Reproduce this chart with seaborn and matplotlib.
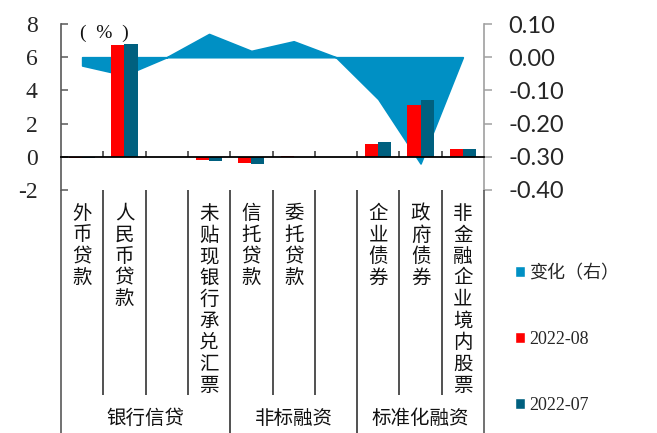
import numpy as np
import pandas as pd
import matplotlib
matplotlib.use("Agg")
import matplotlib.pyplot as plt
import matplotlib.transforms as mtransforms
from matplotlib.patches import Patch
import seaborn as sns

# Financing categories (two unlabeled spacer slots keep the groups apart)
categories = ["外币贷款", "人民币贷款", "", "未贴现银行承兑汇票", "信托贷款",
              "委托贷款", " ", "企业债券", "政府债券", "非金融企业境内股票"]
groups = ["银行信贷", "非标融资", "标准化融资"]
group_slots = [(0, 3), (4, 6), (7, 9)]

series_names = ["2022-08", "2022-07"]
aug_values = [-0.10, 6.72, np.nan, -0.18, -0.40, 0.02, np.nan, 0.78, 3.10, 0.45]
jul_values = [-0.08, 6.77, np.nan, -0.26, -0.44, -0.03, np.nan, 0.90, 3.42, 0.47]
change_values = [-0.025, -0.054, 0.0, 0.07, 0.019, 0.048, 0.0, -0.126, -0.32, 0.0]

left_ticks = [-2, 0, 2, 4, 6, 8]
right_ticks = [-0.40, -0.30, -0.20, -0.10, 0.00, 0.10]

RED = "#FF0000"
TEAL = "#00607F"
BLUE = "#0090C4"
CJK = "Noto Sans CJK SC"
SERIF = "Liberation Serif"

sns.set_style("white")
plt.rcParams["font.family"] = ["Liberation Serif", "Noto Sans CJK SC", "DejaVu Sans"]

W, H = 657, 433
fig = plt.figure(figsize=(W / 100, H / 100), dpi=100)
ax = fig.add_axes([61 / W, 1 - 190 / H, (484 - 61) / W, (190 - 24) / H])
ax2 = ax.twinx()

# long-form table for the grouped bars
rows = []
for cat, a, j in zip(categories, aug_values, jul_values):
    if not np.isnan(a):
        rows.append({"类别": cat, "期间": series_names[0], "值": a})
        rows.append({"类别": cat, "期间": series_names[1], "值": j})
df = pd.DataFrame(rows)

# change area on the secondary axis (drawn underneath the bars)
x = np.arange(len(categories))
ax2.fill_between(x, 0, change_values, color=BLUE, linewidth=1.2,
                 edgecolor=BLUE, joinstyle="round")
ax2.set_ylim(-0.40, 0.10)
ax2.set_yticks(right_ticks)
ax2.set_yticklabels([f"{v:.2f}" for v in right_ticks], fontfamily="Lato",
                    fontsize=17)
ax2.tick_params(axis="y", direction="out", length=6, width=1.1,
                color="#A0A0A0", pad=11.5, right=True, labelright=True)
for s in ["left", "top", "bottom"]:
    ax2.spines[s].set_visible(False)
ax2.spines["right"].set_color("#A0A0A0")
ax2.spines["right"].set_linewidth(1.2)

ax.set_zorder(ax2.get_zorder() + 1)
ax.patch.set_visible(False)

sns.barplot(data=df, x="类别", y="值", hue="期间", order=categories,
            hue_order=series_names, palette=[RED, TEAL], width=0.62,
            linewidth=0, saturation=1, legend=False, ax=ax)

ax.set_xlim(-0.5, len(categories) - 0.5)
ax.set_ylim(-2, 8)
ax.set_yticks(left_ticks)
ax.set_yticklabels([str(v) for v in left_ticks], fontfamily=SERIF, fontsize=17)
ax.tick_params(axis="y", direction="in", length=5, width=1.1,
               color="#595959", pad=17, left=True)
ax.set_xlabel("")
ax.set_ylabel("")

# category axis sits on the zero line with short tick marks between slots
ax.spines["bottom"].set_position(("data", 0))
ax.spines["bottom"].set_color("black")
ax.spines["bottom"].set_linewidth(1.3)
ax.set_xticks(np.arange(len(categories) - 1) + 0.5)
ax.set_xticklabels([])
ax.tick_params(axis="x", direction="in", length=4, width=1.1,
               color="#333333", bottom=True)
ax.spines["left"].set_color("#595959")
ax.spines["left"].set_linewidth(1.2)
for s in ["top", "right"]:
    ax.spines[s].set_visible(False)

# unit marker: wide parentheses around the percent sign
ax.text(0.52, 7.45, "(  %  )", ha="center", va="center", fontsize=14,
        fontfamily=SERIF, color="#111111")

# category table underneath the plot
tr = mtransforms.blended_transform_factory(ax.transData, fig.transFigure)
y_top = 1 - 190 / H
y_inner = 1 - 395 / H
group_edges = {-0.5, 3.5, 6.5, len(categories) - 0.5}
for b in np.arange(len(categories) + 1) - 0.5:
    y_end = 0.0 if b in group_edges else y_inner
    color = "#595959" if b in (-0.5, len(categories) - 0.5) else "#333333"
    ax.plot([b, b], [y_top, y_end], transform=tr, color=color, lw=1.2,
            clip_on=False, solid_capstyle="butt")

pitch = 21.5
for i, cat in enumerate(categories):
    for j, ch in enumerate(cat.strip()):
        ax.text(i, 1 - (213.5 + j * pitch) / H, ch, transform=tr,
                ha="center", va="center", fontsize=14, fontfamily=CJK,
                color="#111111")

for name, (a, b) in zip(groups, group_slots):
    ax.text((a + b) / 2, 1 - 418 / H, name, transform=tr, ha="center",
            va="center", fontsize=14, fontfamily=CJK, color="#111111")

handles = [Patch(facecolor=BLUE), Patch(facecolor=RED), Patch(facecolor=TEAL)]
labels = ["变化（右）"] + series_names
leg = fig.legend(handles, labels, loc="upper left",
                 bbox_to_anchor=(515 / W, 1 - 264 / H), frameon=False,
                 fontsize=13, handlelength=0.55, handleheight=0.55,
                 handletextpad=0.25, labelspacing=2.72, borderpad=0,
                 borderaxespad=0)
for t, fam in zip(leg.get_texts(), [CJK, SERIF, SERIF]):
    t.set_fontfamily(fam)

fig.savefig("out.png", dpi=100)
